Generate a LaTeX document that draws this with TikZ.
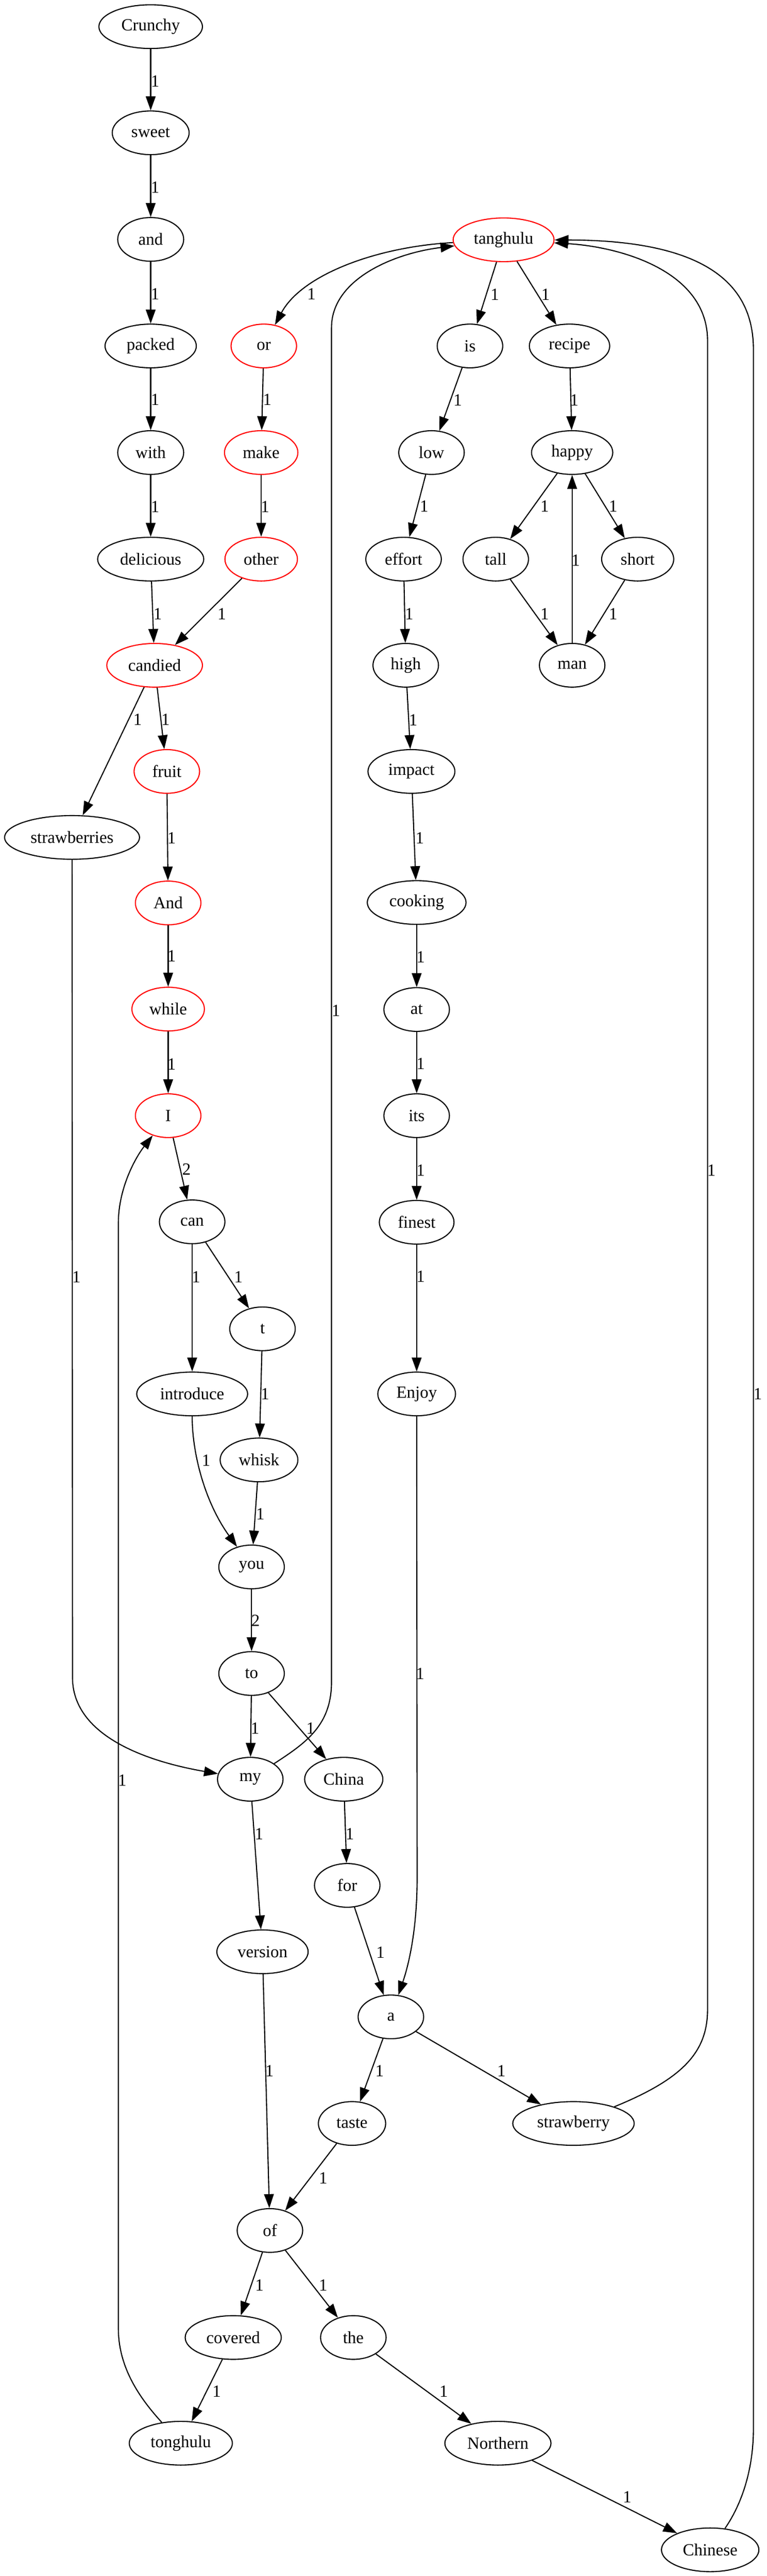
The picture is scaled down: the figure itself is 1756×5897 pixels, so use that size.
\documentclass[tikz,border=0pt]{standalone}
\usepackage{fontspec}
\setmainfont{Liberation Serif}
\usetikzlibrary{arrows.meta,shapes.geometric}
\begin{document}
\begin{tikzpicture}[x=0.36pt,y=-0.36pt,
 nd/.style={ellipse,draw,line width=0.9pt,inner sep=0pt,minimum height=36pt,font=\fontsize{14}{16}\selectfont},
 rd/.style={nd,draw=red},
 wd/.style={minimum width=#1*0.36pt},
 lbl/.style={inner sep=0pt,font=\fontsize{14}{16}\selectfont},
 edg/.style={line width=0.9pt,-{Triangle[length=11.5pt,width=8pt]}}]
\useasboundingbox (0,0) rectangle (1756,5897);
% nodes
\node[nd,wd=237] (nCrunchy) at (345,61) {Crunchy};
\node[nd,wd=176] (nsweet) at (345,304) {sweet};
\node[nd,wd=151] (nand) at (345,548) {and};
\node[nd,wd=209] (npacked) at (345,792) {packed};
\node[nd,wd=151] (nwith) at (345,1036) {with};
\node[nd,wd=243] (ndelicious) at (345,1280) {delicious};
\node[rd,wd=219] (ncandied) at (354,1523) {candied};
\node[rd,wd=150] (nor) at (604,792) {or};
\node[rd,wd=168] (nmake) at (598,1036) {make};
\node[rd,wd=166] (nother) at (598,1280) {other};
\node[rd,wd=231] (ntanghulu) at (1153,549) {tanghulu};
\node[nd,wd=150] (nis) at (1076,792) {is};
\node[nd,wd=184] (nrecipe) at (1304,792) {recipe};
\node[nd,wd=150] (nlow) at (988,1036) {low};
\node[nd,wd=186] (nhappy) at (1310,1036) {happy};
\node[nd,wd=173] (neffort) at (924,1280) {effort};
\node[nd,wd=150] (ntall) at (1135,1280) {tall};
\node[nd,wd=165] (nshort) at (1460,1280) {short};
\node[nd,wd=150] (nhigh) at (929,1523) {high};
\node[nd,wd=150] (nman) at (1310,1523) {man};
\node[rd,wd=150] (nfruit) at (382,1766) {fruit};
\node[nd,wd=309] (nstrawberries) at (165,1917) {strawberries};
\node[rd,wd=150] (nAnd) at (385,2067) {And};
\node[rd,wd=166] (nwhile) at (385,2310) {while};
\node[rd,wd=150] (nI) at (385,2554) {I};
\node[nd,wd=150] (ncan) at (440,2797) {can};
\node[nd,wd=150] (nt) at (601,3042) {t};
\node[nd,wd=254] (nintroduce) at (440,3191) {introduce};
\node[nd,wd=199] (nimpact) at (942,1766) {impact};
\node[nd,wd=226] (ncooking) at (954,2066) {cooking};
\node[nd,wd=150] (nat) at (954,2311) {at};
\node[nd,wd=150] (nits) at (954,2554) {its};
\node[nd,wd=171] (nfinest) at (954,2798) {finest};
\node[nd,wd=178] (nEnjoy) at (954,3191) {Enjoy};
\node[nd,wd=178] (nwhisk) at (593,3342) {whisk};
\node[nd,wd=150] (nyou) at (576,3587) {you};
\node[nd,wd=150] (nto) at (576,3831) {to};
\node[nd,wd=150] (nmy) at (573,4073) {my};
\node[nd,wd=179] (nChina) at (787,4073) {China};
\node[nd,wd=150] (nfor) at (795,4316) {for};
\node[nd,wd=209] (nversion) at (601,4468) {version};
\node[nd,wd=150] (na) at (895,4617) {a};
\node[nd,wd=154] (ntaste) at (806,4861) {taste};
\node[nd,wd=278] (nstrawberry) at (1313,4861) {strawberry};
\node[nd,wd=150] (nof) at (618,5106) {of};
\node[nd,wd=220] (ncovered) at (534,5351) {covered};
\node[nd,wd=150] (nthe) at (809,5351) {the};
\node[nd,wd=236] (ntonghulu) at (414,5593) {tonghulu};
\node[nd,wd=243] (nNorthern) at (1140,5593) {Northern};
\node[nd,wd=223] (nChinese) at (1626,5837) {Chinese};
% straight edges
\draw[edg] (nCrunchy) -- (nsweet);
\draw[edg] (nsweet) -- (nand);
\draw[edg] (nand) -- (npacked);
\draw[edg] (npacked) -- (nwith);
\draw[edg] (nwith) -- (ndelicious);
\draw[edg] (ndelicious) -- (ncandied);
\draw[edg] (nother) -- (ncandied);
\draw[edg] (nor) -- (nmake);
\draw[edg] (nmake) -- (nother);
\draw[edg] (ntanghulu) -- (nis);
\draw[edg] (ntanghulu) -- (nrecipe);
\draw[edg] (nis) -- (nlow);
\draw[edg] (nrecipe) -- (nhappy);
\draw[edg] (nlow) -- (neffort);
\draw[edg] (nhappy) -- (ntall);
\draw[edg] (nhappy) -- (nshort);
\draw[edg] (nman) -- (nhappy);
\draw[edg] (ntall) -- (nman);
\draw[edg] (nshort) -- (nman);
\draw[edg] (neffort) -- (nhigh);
\draw[edg] (nhigh) -- (nimpact);
\draw[edg] (nimpact) -- (ncooking);
\draw[edg] (ncooking) -- (nat);
\draw[edg] (nat) -- (nits);
\draw[edg] (nits) -- (nfinest);
\draw[edg] (nfinest) -- (nEnjoy);
\draw[edg] (ncandied) -- (nstrawberries);
\draw[edg] (ncandied) -- (nfruit);
\draw[edg] (nfruit) -- (nAnd);
\draw[edg] (nAnd) -- (nwhile);
\draw[edg] (nwhile) -- (nI);
\draw[edg] (nI) -- (ncan);
\draw[edg] (ncan) -- (nintroduce);
\draw[edg] (ncan) -- (nt);
\draw[edg] (nt) -- (nwhisk);
\draw[edg] (nwhisk) -- (nyou);
\draw[edg] (nyou) -- (nto);
\draw[edg] (nto) -- (nmy);
\draw[edg] (nto) -- (nChina);
\draw[edg] (nmy) -- (nversion);
\draw[edg] (nChina) -- (nfor);
\draw[edg] (nfor) -- (na);
\draw[edg] (nversion) -- (nof);
\draw[edg] (na) -- (ntaste);
\draw[edg] (na) -- (nstrawberry);
\draw[edg] (ntaste) -- (nof);
\draw[edg] (nof) -- (ncovered);
\draw[edg] (nof) -- (nthe);
\draw[edg] (ncovered) -- (ntonghulu);
\draw[edg] (nthe) -- (nNorthern);
\draw[edg] (nNorthern) -- (nChinese);
% curved edges
\draw[edg] (ntanghulu) .. controls (860,565) and (690,630) .. (nor);
\draw[edg] (nintroduce) .. controls (440,3330) and (470,3440) .. (nyou);
\draw[edg] (nEnjoy) -- (955,4300) .. controls (955,4420) and (935,4500) .. (na);
\draw[edg] (nstrawberries) -- (166,3840) .. controls (166,3990) and (380,4040) .. (nmy);
\draw[edg] (nmy) .. controls (700,3990) and (759,3950) .. (759,3850) -- (759,750) .. controls (759,640) and (900,580) .. (ntanghulu);
\draw[edg] (ntonghulu) .. controls (320,5490) and (271,5420) .. (271,5330) -- (271,2800) .. controls (271,2720) and (310,2650) .. (nI);
\draw[edg] (nstrawberry) .. controls (1560,4760) and (1620,4700) .. (1620,4600) -- (1620,780) .. controls (1620,620) and (1420,565) .. (ntanghulu);
\draw[edg] (nChinese) .. controls (1700,5730) and (1725,5650) .. (1725,5560) -- (1725,800) .. controls (1725,640) and (1600,550) .. (ntanghulu);
% labels
\node[lbl] (l1) at (355,186) {1};
\node[lbl] (l2) at (355,429) {1};
\node[lbl] (l3) at (355,673) {1};
\node[lbl] (l4) at (355,915) {1};
\node[lbl] (l5) at (355,1160) {1};
\node[lbl] (l6) at (361,1405) {1};
\node[lbl] (l7) at (508,1405) {1};
\node[lbl] (l8) at (612,915) {1};
\node[lbl] (l9) at (607,1160) {1};
\node[lbl] (l10) at (713,673) {1};
\node[lbl] (l11) at (1133,674) {1};
\node[lbl] (l12) at (1249,674) {1};
\node[lbl] (l13) at (1048,916) {1};
\node[lbl] (l14) at (1315,916) {1};
\node[lbl] (l15) at (971,1159) {1};
\node[lbl] (l16) at (1247,1159) {1};
\node[lbl] (l17) at (1404,1159) {1};
\node[lbl] (l18) at (1318,1283) {1};
\node[lbl] (l19) at (1247,1405) {1};
\node[lbl] (l20) at (1404,1405) {1};
\node[lbl] (l21) at (937,1405) {1};
\node[lbl] (l22) at (946,1648) {1};
\node[lbl] (l23) at (961,1918) {1};
\node[lbl] (l24) at (963,2191) {1};
\node[lbl] (l25) at (963,2435) {1};
\node[lbl] (l26) at (963,2679) {1};
\node[lbl] (l27) at (963,2922) {1};
\node[lbl] (l28) at (315,1647) {1};
\node[lbl] (l29) at (379,1647) {1};
\node[lbl] (l30) at (393,1918) {1};
\node[lbl] (l31) at (393,2189) {1};
\node[lbl] (l32) at (393,2436) {1};
\node[lbl] (l33) at (427,2677) {2};
\node[lbl] (l34) at (449,2923) {1};
\node[lbl] (l35) at (546,2923) {1};
\node[lbl] (l36) at (607,3191) {1};
\node[lbl] (l37) at (472,3343) {1};
\node[lbl] (l38) at (596,3466) {1};
\node[lbl] (l39) at (585,3710) {2};
\node[lbl] (l40) at (584,3956) {1};
\node[lbl] (l41) at (711,3956) {1};
\node[lbl] (l42) at (593,4198) {1};
\node[lbl] (l43) at (801,4198) {1};
\node[lbl] (l44) at (871,4469) {1};
\node[lbl] (l45) at (962,3831) {1};
\node[lbl] (l46) at (175,2923) {1};
\node[lbl] (l47) at (280,4075) {1};
\node[lbl] (l48) at (769,2313) {1};
\node[lbl] (l49) at (1629,2679) {1};
\node[lbl] (l50) at (1735,3191) {1};
\node[lbl] (l51) at (617,4741) {1};
\node[lbl] (l52) at (869,4741) {1};
\node[lbl] (l53) at (1148,4741) {1};
\node[lbl] (l54) at (740,4986) {1};
\node[lbl] (l55) at (594,5231) {1};
\node[lbl] (l56) at (740,5231) {1};
\node[lbl] (l57) at (496,5474) {1};
\node[lbl] (l58) at (1016,5474) {1};
\node[lbl] (l59) at (1436,5716) {1};
\end{tikzpicture}
\end{document}
